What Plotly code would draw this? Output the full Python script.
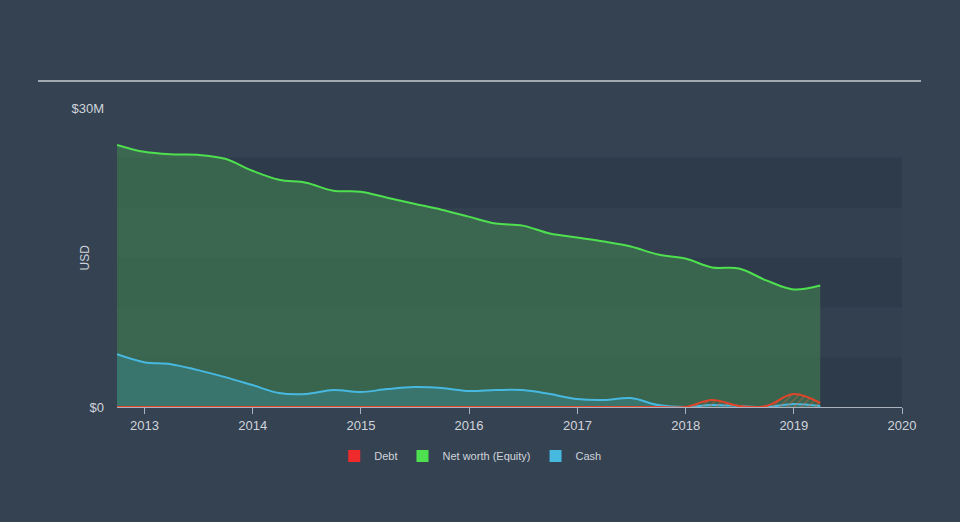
import plotly.graph_objs as go

# quarterly dates
dates = ['2012-09-30', '2012-12-31', '2013-03-31', '2013-06-30', '2013-09-30',
         '2013-12-31', '2014-03-31', '2014-06-30', '2014-09-30', '2014-12-31',
         '2015-03-31', '2015-06-30', '2015-09-30', '2015-12-31', '2016-03-31',
         '2016-06-30', '2016-09-30', '2016-12-31', '2017-03-31', '2017-06-30',
         '2017-09-30', '2017-12-31', '2018-03-31', '2018-06-30', '2018-09-30',
         '2018-12-31', '2019-03-31']

# USD millions
equity = [26.3, 25.6, 25.35, 25.3, 24.9, 23.7, 22.8, 22.5, 21.7, 21.6,
          21.0, 20.4, 19.8, 19.1, 18.4, 18.2, 17.4, 17.0, 16.6, 16.1,
          15.3, 14.9, 14.0, 13.9, 12.7, 11.8, 12.2]
cash = [5.3, 4.5, 4.3, 3.7, 3.0, 2.2, 1.4, 1.3, 1.7, 1.5,
        1.8, 2.0, 1.9, 1.6, 1.7, 1.7, 1.3, 0.8, 0.7, 0.9,
        0.2, 0.0, 0.2, 0.1, 0.0, 0.3, 0.1]
debt = [0, 0, 0, 0, 0, 0, 0, 0, 0, 0,
        0, 0, 0, 0, 0, 0, 0, 0, 0, 0,
        0, 0, 0.7, 0.1, 0.1, 1.3, 0.4]

equity = [v * 1e6 for v in equity]
cash = [v * 1e6 for v in cash]
debt = [v * 1e6 for v in debt]

bg = '#344252'
txt = '#d0d4da'

fig = go.Figure()

# background bands
bands = [(0, 5e6, '#2e3b4b'), (5e6, 10e6, '#324050'), (10e6, 15e6, '#2e3b4b'),
         (15e6, 20e6, '#324050'), (20e6, 25e6, '#2e3b4b')]
for y0, y1, c in bands:
    fig.add_shape(type='rect', xref='x', yref='y', x0=dates[0], x1='2020-01-01',
                  y0=y0, y1=y1, fillcolor=c, line_width=0, layer='below')

fig.add_trace(go.Scatter(x=dates, y=equity, mode='lines', line=dict(color='#4fe04f', width=2, shape='spline'),
                         fill='tozeroy', fillcolor='rgba(70,150,80,0.45)', showlegend=False, hoverinfo='skip'))
fig.add_trace(go.Scatter(x=dates, y=cash, mode='lines', line=dict(color='#47b8e0', width=2, shape='spline'),
                         fill='tozeroy', fillcolor='rgba(60,150,170,0.35)', showlegend=False, hoverinfo='skip'))
fig.add_trace(go.Scatter(x=dates, y=debt, mode='lines', line=dict(color='#e0452a', width=2, shape='spline'),
                         fill='tozeroy', fillcolor='rgba(0,0,0,0)',
                         fillpattern=dict(shape='/', fgcolor='#c0644a', bgcolor='rgba(0,0,0,0)', size=5, solidity=0.3),
                         showlegend=False, hoverinfo='skip'))

# legend entries
for name, col in [('Debt', '#ee2a2a'), ('Net worth (Equity)', '#4fe04f'), ('Cash', '#47b8e0')]:
    fig.add_trace(go.Scatter(x=[None], y=[None], mode='markers', name=name,
                             marker=dict(symbol='square', size=14, color=col)))

# top rule
fig.add_shape(type='line', xref='paper', yref='paper', x0=-0.1006, x1=1.0242, y0=1.0903, y1=1.0903,
              line=dict(color='#c8ccd2', width=1.5))

# axis title
fig.add_annotation(text='USD', xref='paper', yref='paper', x=-0.0535, y=0.5, textangle=-90,
                   showarrow=False, font=dict(size=12, color=txt))

fig.update_layout(
    width=960, height=522,
    paper_bgcolor=bg, plot_bgcolor='rgba(0,0,0,0)',
    margin=dict(l=117, r=58, t=108, b=115),
    font=dict(family='Liberation Sans, Arial, sans-serif', size=12, color=txt),
    legend=dict(orientation='h', x=0.45, y=-0.164, xanchor='center', yanchor='middle',
                font=dict(size=11, color=txt), bgcolor='rgba(0,0,0,0)', itemsizing='constant'),
    xaxis=dict(type='date', range=[dates[0], '2020-01-01'], showgrid=False, zeroline=False,
               tickvals=['2013-01-01', '2014-01-01', '2015-01-01', '2016-01-01', '2017-01-01',
                         '2018-01-01', '2019-01-01', '2020-01-01'],
               ticktext=['2013', '2014', '2015', '2016', '2017', '2018', '2019', '2020'],
               showline=True, linecolor='#aab2bd', linewidth=1, ticks='outside', ticklen=6,
               tickcolor='#aab2bd', tickfont=dict(size=13, color=txt)),
    yaxis=dict(range=[0, 30e6], tickvals=[0, 30e6], ticktext=['$0', '$30M'], showgrid=False,
               zeroline=False, ticklabelstandoff=12, tickfont=dict(size=13, color=txt)),
)

fig.write_html('out.html', config={'displayModeBar': False},
               post_script="document.body.style.margin='0';document.body.style.overflow='hidden';")
